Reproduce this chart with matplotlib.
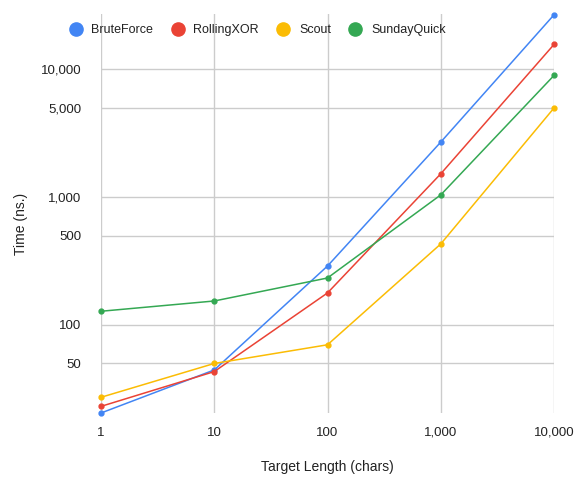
import matplotlib
matplotlib.use("Agg")
import matplotlib.pyplot as plt
from matplotlib.ticker import FixedLocator, FuncFormatter, NullLocator
from matplotlib.lines import Line2D

plt.rcParams['font.family'] = ['Liberation Sans', 'DejaVu Sans']

lengths = [1, 10, 100, 1000, 10000]
brute_force = [20.5, 44.5, 289, 2690, 26600]
rolling_xor = [23.1, 43.2, 178, 1520, 15600]
scout = [27.2, 50, 70, 430, 4970]
sunday_quick = [128, 154, 233, 1040, 8930]

series = [
    ("BruteForce", brute_force, "#4285F4"),
    ("RollingXOR", rolling_xor, "#EA4335"),
    ("Scout", scout, "#FBBC04"),
    ("SundayQuick", sunday_quick, "#34A853"),
]

y_ticks = [50, 100, 500, 1000, 5000, 10000]

fig = plt.figure(figsize=(5.84, 4.78), dpi=100)
ax = fig.add_axes([101 / 584, 1 - 413 / 478, (554 - 101) / 584, (413 - 14) / 478])

for name, vals, col in series:
    ax.plot(lengths, vals, color=col, lw=1.1, marker="o", ms=3.5, clip_on=False, zorder=3)

ax.set_xscale("log")
ax.set_yscale("log")
ax.set_xlim(1, 10000)
ax.set_ylim(20.5, 27000)

fmt = FuncFormatter(lambda v, p: f"{int(round(v)):,}")
ax.xaxis.set_major_locator(FixedLocator(lengths))
ax.xaxis.set_minor_locator(NullLocator())
ax.yaxis.set_major_locator(FixedLocator(y_ticks))
ax.yaxis.set_minor_locator(NullLocator())
ax.xaxis.set_major_formatter(fmt)
ax.yaxis.set_major_formatter(fmt)

ax.grid(True, color="#cccccc", lw=1)
ax.set_axisbelow(True)
for s in ax.spines.values():
    s.set_visible(False)
ax.tick_params(length=0, labelsize=9.5, colors="#222222")
ax.tick_params(axis="x", pad=10)
ax.tick_params(axis="y", pad=14)

ax.set_xlabel("Target Length (chars)", fontsize=10, color="#222222", labelpad=15)
ax.set_ylabel("Time (ns.)", fontsize=10, color="#222222")
ax.yaxis.set_label_coords(-(101 - 28) / 453, (413 - 224) / 399)

handles = [Line2D([], [], ls="", marker="o", ms=9.5, color=c) for _, _, c in series]
fig.legend(handles, [n for n, _, _ in series], loc="center", bbox_to_anchor=(256 / 584, 1 - 30 / 478),
           ncol=4, frameon=False, fontsize=9, handletextpad=0.5, columnspacing=1.2,
           handlelength=1.5, labelcolor="#222222")

fig.savefig("out.png", dpi=100, facecolor="white")
